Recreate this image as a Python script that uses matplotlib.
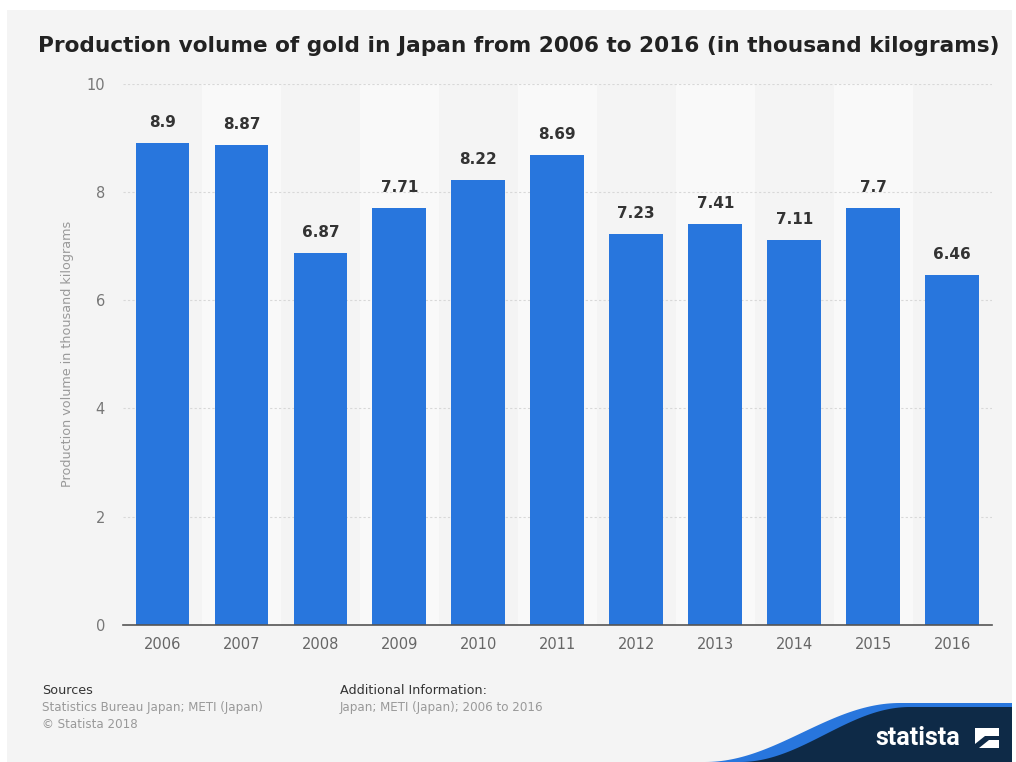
import numpy as np
import matplotlib
matplotlib.use("Agg")
from matplotlib import pyplot as plt
from matplotlib.patches import Polygon, Rectangle

years = ['2006', '2007', '2008', '2009', '2010', '2011', '2012', '2013', '2014', '2015', '2016']
volume = [8.9, 8.87, 6.87, 7.71, 8.22, 8.69, 7.23, 7.41, 7.11, 7.7, 6.46]
value_labels = ['8.9', '8.87', '6.87', '7.71', '8.22', '8.69', '7.23', '7.41', '7.11', '7.7', '6.46']
yticks = [0, 2, 4, 6, 8, 10]

bg = '#f4f4f4'
bar_color = '#2876dd'

fig = plt.figure(figsize=(10.16, 7.62), dpi=100)
fig.patch.set_facecolor('white')
# grey panel with thin white margin
fig.patches.append(Rectangle((7 / 1016, 0), 1005 / 1016, 752 / 762, transform=fig.transFigure,
                             facecolor=bg, edgecolor='none', zorder=-10))

ax = fig.add_axes([0.121, 0.18, 0.855, 0.71])
ax.set_facecolor(bg)
x = np.arange(len(years))

# alternating lighter column bands
for i in x:
    if i % 2 == 1:
        ax.axvspan(i - 0.5, i + 0.5, color='#f9f9f9', zorder=0, lw=0)

ax.bar(x, volume, width=0.68, color=bar_color, zorder=3)
for xi, v, lab in zip(x, volume, value_labels):
    ax.text(xi, v + 0.38, lab, ha='center', va='center', fontsize=11,
            fontweight='bold', color='#333333', zorder=4)

ax.set_xlim(-0.5, len(years) - 0.5)
ax.set_ylim(0, 10)
ax.set_yticks(yticks)
ax.set_xticks(x)
ax.set_xticklabels(years)
ax.tick_params(axis='both', length=0, labelsize=10.5, colors='#666666')
ax.tick_params(axis='y', pad=13, colors='#777777')
ax.tick_params(axis='x', pad=9)
ax.grid(axis='y', linestyle=(0, (2, 2)), color='#d8d8d8', linewidth=0.8, zorder=1)
for s in ['top', 'right', 'left']:
    ax.spines[s].set_visible(False)
ax.spines['bottom'].set_color('#555555')
ax.spines['bottom'].set_linewidth(1.2)
ax.spines['bottom'].set_zorder(5)
ax.set_ylabel('Production volume in thousand kilograms', fontsize=9.2, color='#999999', labelpad=9)

fig.text(0.511, 0.94, 'Production volume of gold in Japan from 2006 to 2016 (in thousand kilograms)',
         ha='center', va='center', fontsize=15.6, fontweight='bold', color='#222222')

# footer
fig.text(42 / 1016, 1 - 690 / 762, 'Sources', fontsize=9.2, color='#333333', va='center')
fig.text(42 / 1016, 1 - 707 / 762, 'Statistics Bureau Japan; METI (Japan)', fontsize=8.6, color='#999999', va='center')
fig.text(42 / 1016, 1 - 724 / 762, '\u00a9 Statista 2018', fontsize=8.6, color='#999999', va='center')
fig.text(340 / 1016, 1 - 690 / 762, 'Additional Information:', fontsize=9.2, color='#333333', va='center')
fig.text(340 / 1016, 1 - 707 / 762, 'Japan; METI (Japan); 2006 to 2016', fontsize=8.6, color='#999999', va='center')

# statista logo swoosh
t = np.linspace(0, 1, 60)
sx = 705 + t * (900 - 705)
sy = 762 - (762 - 703) * (0.5 - 0.5 * np.cos(np.pi * t))
blue = [(a / 1016, 1 - b / 762) for a, b in zip(sx, sy)] + [(1012 / 1016, 1 - 703 / 762), (1012 / 1016, 0)]
fig.patches.append(Polygon(blue, closed=True, transform=fig.transFigure, facecolor='#2876dd',
                           edgecolor='none', zorder=-5))
sy2 = 762 - (762 - 707) * (0.5 - 0.5 * np.cos(np.pi * t))
sx2 = 740 + t * (910 - 740)
navy = [(a / 1016, 1 - b / 762) for a, b in zip(sx2, sy2)] + [(1012 / 1016, 1 - 707 / 762), (1012 / 1016, 0)]
fig.patches.append(Polygon(navy, closed=True, transform=fig.transFigure, facecolor='#0e2a47',
                           edgecolor='none', zorder=-4))
fig.text(918 / 1016, 1 - 738 / 762, 'statista', fontsize=18, fontweight='bold', color='white',
         ha='center', va='center', family='Roboto')
fig.patches.append(Rectangle((975 / 1016, 1 - 748 / 762), 24 / 1016, 20 / 762, transform=fig.transFigure,
                             facecolor='white', edgecolor='none', zorder=1))
stripe = [(975 / 1016, 1 - 744 / 762), (985 / 1016, 1 - 736 / 762), (999 / 1016, 1 - 736 / 762),
          (999 / 1016, 1 - 740 / 762), (989 / 1016, 1 - 740 / 762), (979 / 1016, 1 - 748 / 762),
          (975 / 1016, 1 - 748 / 762)]
fig.patches.append(Polygon(stripe, closed=True, transform=fig.transFigure, facecolor='#0e2a47',
                           edgecolor='none', zorder=2))

fig.savefig('out.png', dpi=100, facecolor=fig.get_facecolor())
